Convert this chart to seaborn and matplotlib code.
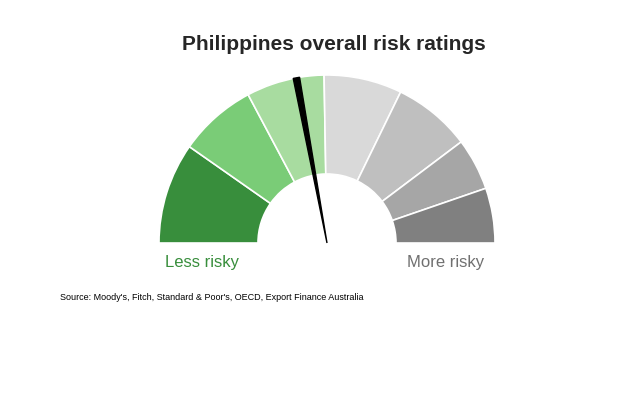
import matplotlib
matplotlib.use("Agg")
import matplotlib.pyplot as plt
from matplotlib.patches import Wedge
import seaborn as sns

sns.set_style("white")
plt.rcParams['font.family'] = ['Liberation Sans', 'DejaVu Sans']

segment_spans = [35, 27, 18, 9, 27, 27, 18, 19]  # degrees, from left (less risky) to right
segment_colors = ["#388e3c", "#7acc77", "#a8dca0", "#a8dca0",
                  "#d9d9d9", "#bfbfbf", "#a6a6a6", "#808080"]
needle_angle = 100.5  # degrees
title = "Philippines overall risk ratings"
source = "Source: Moody's, Fitch, Standard & Poor's, OECD, Export Finance Australia"

fig = plt.figure(figsize=(6.29, 4.14), dpi=100)
ax = fig.add_axes([0, 0, 1, 1])
ax.set_xlim(0, 629)
ax.set_ylim(0, 414)
ax.axis("off")

cx, cy = 327, 414 - 244
r_out, r_in = 168, 69
start = 180
for span, col in zip(segment_spans, segment_colors):
    ax.add_patch(Wedge((cx, cy), r_out, start - span, start, width=r_out - r_in,
                       facecolor=col, edgecolor="white", linewidth=1.2))
    start -= span

import numpy as np
a = np.deg2rad(needle_angle)
d = np.deg2rad(1.1)
xs = [cx, cx + r_out * np.cos(a - d), cx + r_out * np.cos(a + d)]
ys = [cy, cy + r_out * np.sin(a - d), cy + r_out * np.sin(a + d)]
ax.fill(xs, ys, color="black", zorder=5)

ax.text(334, 414 - 44, title, ha="center", va="center", fontsize=15, fontweight="bold")
ax.text(165, 414 - 262, "Less risky", ha="left", va="center", fontsize=12, color="#388e3c")
ax.text(484, 414 - 262, "More risky", ha="right", va="center", fontsize=12, color="#707070")
ax.text(60, 414 - 298, source, ha="left", va="center", fontsize=6.5, color="black")

fig.savefig("out.png", dpi=100)
